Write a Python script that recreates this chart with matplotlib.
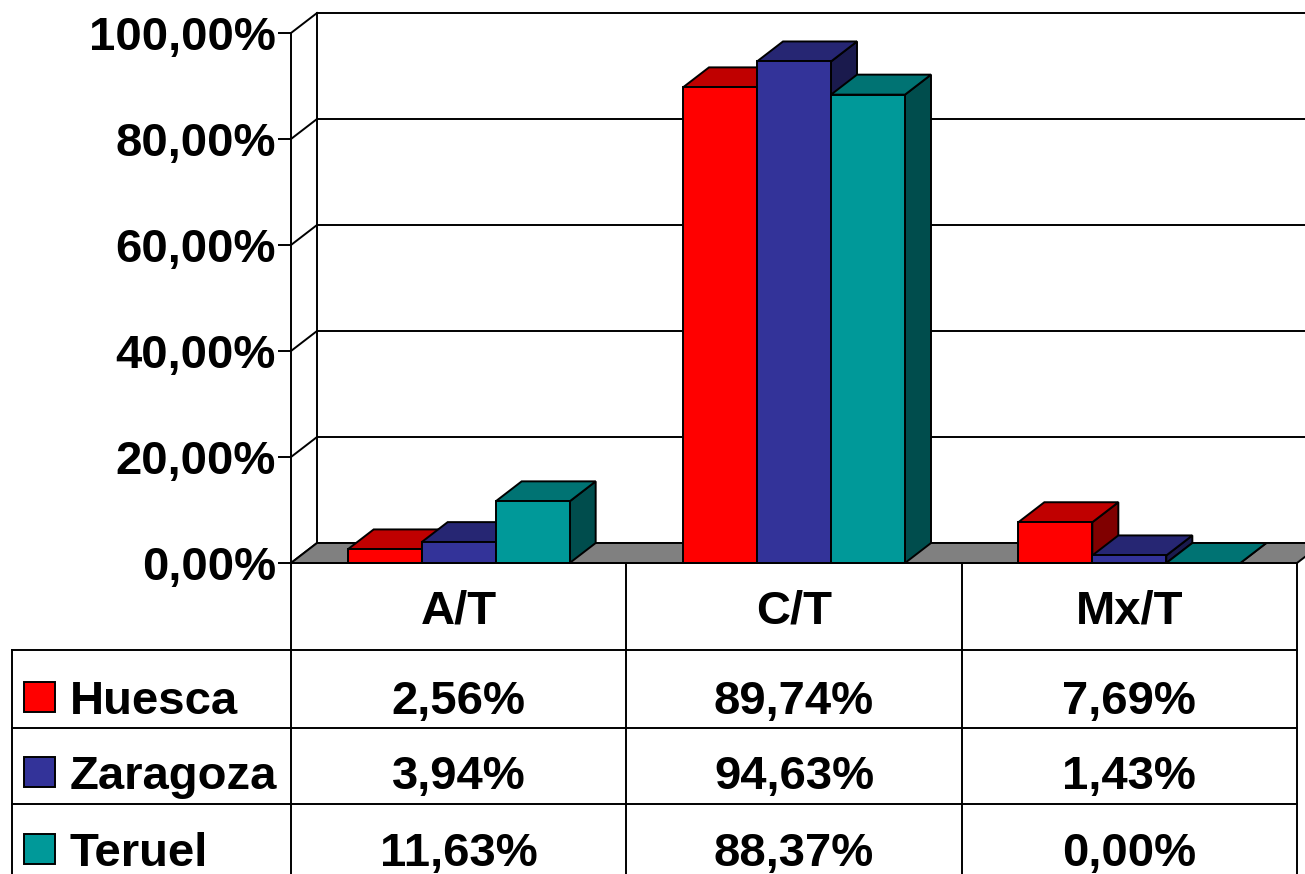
import matplotlib
matplotlib.use('Agg')
import matplotlib.pyplot as plt
from matplotlib.patches import Polygon, Rectangle

categories = ['A/T', 'C/T', 'Mx/T']
series = ['Huesca', 'Zaragoza', 'Teruel']
huesca = [2.56, 89.74, 7.69]
zaragoza = [3.94, 94.63, 1.43]
teruel = [11.63, 88.37, 0.00]
y_ticks = [0, 20, 40, 60, 80, 100]

front_colors = ['#FF0000', '#333399', '#009999']
top_colors = ['#C00000', '#262673', '#007373']
side_colors = ['#800000', '#1A1A4D', '#004D4D']


def pct(v):
    return '{:.2f}'.format(v).replace('.', ',') + '%'


plt.rcParams['font.family'] = ['Liberation Sans', 'DejaVu Sans']
plt.rcParams['font.weight'] = 'bold'

W, H = 1305, 874
fs = 34
lw = 1.4
fig = plt.figure(figsize=(W / 100, H / 100), dpi=100)

# plot area in pixels (front plane)
left, right, bottom, top = 291, 1297, 563, 33
ax = fig.add_axes([left / W, 1 - bottom / H, (right - left) / W, (bottom - top) / H])
ax.set_xlim(0, len(categories))
ax.set_ylim(0, 100)
ax.patch.set_visible(False)

# depth of the 3d effect in data units
dx = 26 / (right - left) * len(categories)
dy = 20 / (bottom - top) * 100
ncat = len(categories)

# walls and gridlines
for v in y_ticks:
    ax.plot([dx, ncat + dx + 0.2], [v + dy, v + dy], color='k', lw=lw, clip_on=False, zorder=1)
    ax.plot([0, dx], [v, v + dy], color='k', lw=lw, clip_on=False, zorder=1)
ax.plot([dx, dx], [dy, 100 + dy], color='k', lw=lw, clip_on=False, zorder=1)

floor = Polygon([(0, 0), (ncat, 0), (ncat + dx, dy), (dx, dy)], closed=True,
                facecolor='#808080', edgecolor='k', lw=lw, clip_on=False, zorder=2)
ax.add_patch(floor)

# bars
bw = 74 / (right - left) * ncat
off = (1 - len(series) * bw) / 2
values = [huesca, zaragoza, teruel]
for j in range(ncat):
    for i in range(len(series)):
        v = values[i][j]
        x0 = j + off + i * bw
        z = 3 + j * 10 + i * 3
        side = Polygon([(x0 + bw, 0), (x0 + bw + dx, dy), (x0 + bw + dx, v + dy), (x0 + bw, v)],
                       closed=True, facecolor=side_colors[i], edgecolor='k', lw=lw,
                       clip_on=False, zorder=z)
        topf = Polygon([(x0, v), (x0 + bw, v), (x0 + bw + dx, v + dy), (x0 + dx, v + dy)],
                       closed=True, facecolor=top_colors[i], edgecolor='k', lw=lw,
                       clip_on=False, zorder=z + 1)
        front = Rectangle((x0, 0), bw, v, facecolor=front_colors[i], edgecolor='k', lw=lw,
                          clip_on=False, zorder=z + 2)
        ax.add_patch(side)
        ax.add_patch(topf)
        ax.add_patch(front)

ax.set_yticks(y_ticks)
ax.set_yticklabels([pct(v) for v in y_ticks], fontsize=fs, fontweight='bold')
ax.tick_params(axis='y', length=9.4, width=lw, pad=1.5, direction='out', colors='k')
ax.set_xticks([])
for s in ['top', 'right', 'bottom']:
    ax.spines[s].set_visible(False)
ax.spines['left'].set_linewidth(lw)
ax.spines['left'].set_zorder(50)

# data table below the chart, pixel coordinates
tab = fig.add_axes([0, 0, 1, 1])
tab.set_xlim(0, W)
tab.set_ylim(H, 0)
tab.axis('off')
tab.patch.set_visible(False)

col_w = (right - left) / ncat
col_edges = [left + k * col_w for k in range(ncat + 1)]
row_lines = [650, 728, 804]
header_base = 623
row_base = [714, 789, 866]
square_top = [682, 757, 834]

for x in col_edges:
    tab.plot([x, x], [bottom, H + 5], color='k', lw=lw)
tab.plot([left, right], [bottom, bottom], color='k', lw=lw)
for y in row_lines:
    tab.plot([12, right], [y, y], color='k', lw=lw)
tab.plot([12, 12], [row_lines[0], H + 5], color='k', lw=lw)

for j, cat in enumerate(categories):
    cx = col_edges[j] + col_w / 2
    tab.text(cx, header_base, cat, ha='center', va='baseline', fontsize=fs, fontweight='bold')
    for i in range(len(series)):
        tab.text(cx, row_base[i], pct(values[i][j]), ha='center', va='baseline',
                 fontsize=fs, fontweight='bold')

for i, name in enumerate(series):
    tab.add_patch(Rectangle((24, square_top[i]), 31, 30, facecolor=front_colors[i],
                            edgecolor='k', lw=lw))
    tab.text(70, row_base[i], name, ha='left', va='baseline', fontsize=fs, fontweight='bold')

fig.savefig('out.png', dpi=100)
